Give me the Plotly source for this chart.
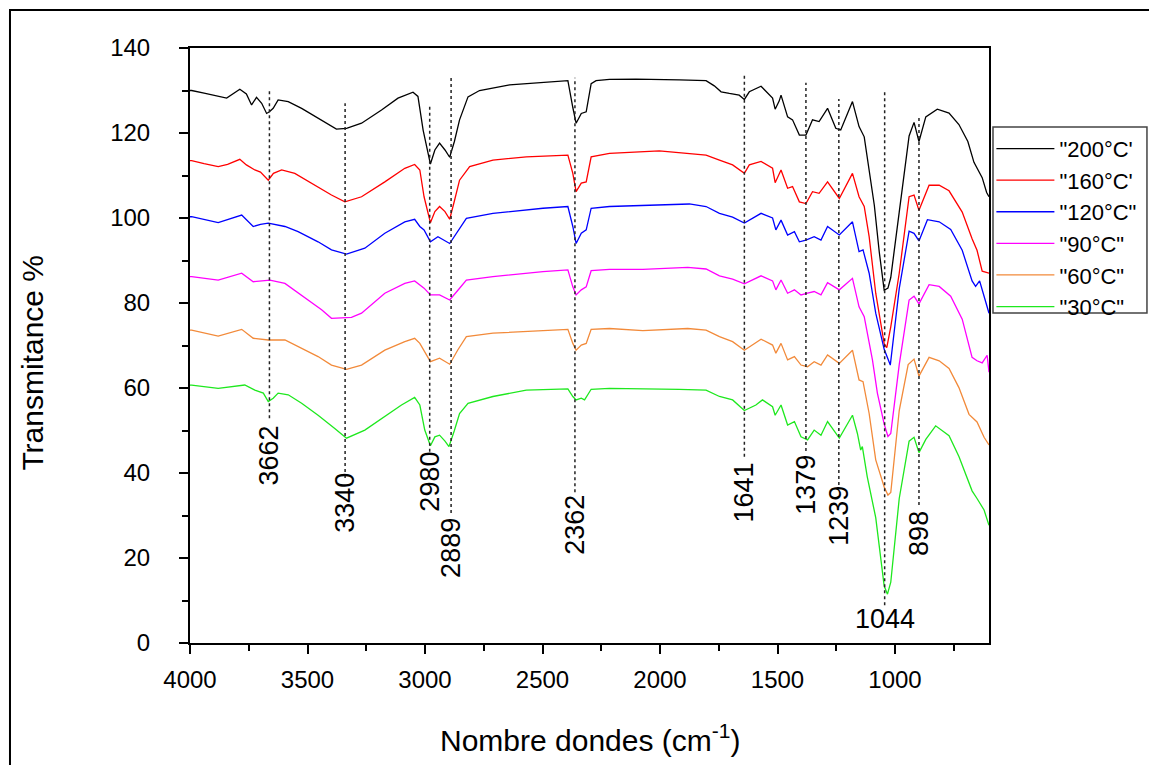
import plotly.graph_objects as go

# ---------------- data ----------------
wn_200 = [4000, 3993, 3940, 3880, 3844, 3788, 3760, 3738, 3717, 3695, 3674, 3662, 3646, 3625, 3582, 3525, 3455, 3377, 3334, 3270, 3185, 3115, 3051, 3030, 3008, 2990, 2977, 2958, 2938, 2915, 2895, 2875, 2853, 2817, 2768, 2640, 2498, 2392, 2371, 2357, 2335, 2314, 2293, 2272, 2215, 2102, 1918, 1804, 1769, 1740, 1705, 1663, 1641, 1620, 1570, 1542, 1521, 1510, 1493, 1485, 1457, 1436, 1407, 1379, 1351, 1323, 1287, 1252, 1231, 1181, 1153, 1131, 1110, 1088, 1067, 1046, 1030, 1018, 982, 955, 940, 919, 898, 869, 820, 770, 728, 690, 664, 629, 610, 600]
t_200 = [130.0, 130.0, 129.4, 128.7, 128.2, 130.3, 129.2, 126.6, 128.4, 127.0, 124.6, 125.0, 125.8, 127.8, 127.4, 125.8, 123.5, 120.9, 121.1, 122.3, 125.4, 128.2, 129.6, 128.6, 120.7, 116.0, 112.7, 116.0, 117.6, 116.0, 114.3, 118.0, 123.1, 128.5, 130.0, 131.3, 131.8, 132.3, 126.0, 122.3, 124.6, 125.0, 131.6, 132.3, 132.6, 132.7, 132.5, 132.3, 131.1, 129.7, 129.3, 128.9, 127.9, 129.7, 131.0, 129.3, 128.2, 125.6, 127.5, 128.9, 123.8, 123.1, 119.5, 119.5, 123.1, 122.7, 125.8, 121.1, 120.7, 127.4, 121.5, 119.1, 111.3, 103.0, 92.0, 83.0, 83.5, 86.0, 101.4, 113.0, 119.3, 122.5, 118.0, 123.8, 125.6, 124.7, 122.0, 118.0, 113.1, 109.5, 106.0, 105.0]

wn_160 = [4000, 3993, 3940, 3880, 3840, 3788, 3760, 3724, 3700, 3667, 3645, 3610, 3554, 3483, 3398, 3341, 3270, 3171, 3086, 3044, 3022, 3004, 2977, 2958, 2938, 2915, 2895, 2875, 2853, 2810, 2711, 2569, 2392, 2371, 2357, 2335, 2314, 2293, 2215, 2003, 1804, 1747, 1691, 1641, 1620, 1570, 1521, 1510, 1485, 1457, 1436, 1407, 1379, 1351, 1323, 1287, 1237, 1181, 1153, 1131, 1110, 1082, 1046, 1035, 1018, 982, 940, 919, 898, 855, 812, 770, 714, 672, 651, 629, 600]
t_160 = [113.5, 113.5, 112.8, 112.1, 112.6, 113.8, 112.5, 111.3, 110.8, 108.9, 110.5, 111.3, 110.5, 108.2, 105.4, 103.8, 105.0, 108.5, 111.7, 112.6, 111.3, 105.0, 98.9, 101.5, 102.7, 101.5, 99.7, 104.0, 108.9, 112.1, 113.6, 114.4, 114.8, 110.5, 106.2, 108.2, 108.5, 114.4, 115.2, 115.8, 114.8, 113.6, 112.5, 110.5, 112.5, 113.3, 111.7, 108.3, 111.3, 107.0, 107.4, 103.8, 103.4, 106.2, 105.8, 108.5, 104.6, 110.5, 105.0, 102.7, 95.6, 82.3, 70.4, 69.5, 74.4, 87.0, 105.0, 105.4, 101.8, 107.7, 107.7, 106.4, 101.4, 95.1, 92.4, 87.5, 87.0]

wn_120 = [4000, 3993, 3880, 3780, 3731, 3700, 3667, 3596, 3540, 3455, 3398, 3334, 3256, 3171, 3086, 3044, 3022, 3004, 2977, 2945, 2895, 2860, 2824, 2711, 2498, 2392, 2371, 2357, 2335, 2314, 2293, 2215, 2073, 1875, 1804, 1747, 1691, 1641, 1570, 1521, 1507, 1485, 1457, 1428, 1407, 1379, 1344, 1315, 1287, 1237, 1181, 1153, 1136, 1110, 1082, 1046, 1020, 982, 940, 919, 898, 862, 812, 763, 714, 672, 657, 640, 621, 600]
t_120 = [100.3, 100.3, 98.9, 100.7, 98.0, 98.5, 98.8, 98.0, 96.8, 94.4, 92.5, 91.5, 92.9, 96.4, 99.1, 99.7, 98.0, 97.2, 94.4, 95.6, 94.0, 97.0, 99.9, 101.1, 102.3, 102.7, 98.0, 94.0, 96.4, 97.2, 102.3, 102.7, 102.9, 103.3, 102.7, 101.1, 100.2, 98.8, 101.1, 100.0, 97.2, 99.5, 96.0, 96.8, 94.4, 94.8, 95.6, 94.8, 98.0, 96.0, 99.1, 92.1, 92.5, 87.0, 77.6, 69.1, 65.4, 83.4, 96.9, 96.4, 94.6, 99.6, 99.1, 97.3, 92.4, 85.2, 83.9, 85.2, 81.6, 77.6]

wn_90 = [4000, 3993, 3880, 3780, 3731, 3660, 3596, 3540, 3440, 3398, 3313, 3270, 3171, 3086, 3044, 3004, 2977, 2938, 2895, 2860, 2824, 2711, 2498, 2392, 2371, 2357, 2335, 2314, 2293, 2215, 2073, 1882, 1804, 1747, 1691, 1641, 1570, 1521, 1507, 1485, 1457, 1428, 1400, 1372, 1344, 1315, 1287, 1237, 1181, 1153, 1131, 1096, 1075, 1046, 1030, 1018, 982, 940, 919, 898, 855, 812, 763, 714, 672, 651, 629, 608, 600]
t_90 = [86.2, 86.2, 85.4, 87.0, 85.0, 85.4, 84.6, 82.3, 78.4, 76.4, 76.6, 77.6, 82.3, 84.6, 85.2, 83.5, 81.9, 81.9, 80.7, 83.0, 85.4, 86.2, 87.4, 87.8, 83.8, 81.9, 83.1, 83.8, 87.6, 87.9, 87.9, 88.4, 88.0, 86.4, 85.6, 84.5, 86.4, 85.2, 83.1, 85.4, 82.3, 83.1, 81.9, 82.3, 82.7, 81.9, 84.8, 83.1, 85.8, 79.1, 76.8, 66.6, 58.8, 51.5, 48.6, 49.3, 65.5, 80.7, 81.6, 79.8, 84.3, 83.9, 81.6, 76.2, 67.2, 66.4, 65.9, 67.7, 63.7]

wn_60 = [4000, 3993, 3880, 3780, 3731, 3667, 3596, 3540, 3455, 3398, 3334, 3270, 3171, 3086, 3044, 3022, 3004, 2977, 2938, 2895, 2860, 2824, 2711, 2498, 2392, 2371, 2357, 2335, 2314, 2293, 2215, 2073, 1882, 1804, 1747, 1691, 1641, 1570, 1521, 1507, 1485, 1457, 1428, 1400, 1372, 1344, 1315, 1287, 1237, 1181, 1153, 1136, 1110, 1082, 1046, 1030, 1018, 982, 944, 919, 898, 855, 812, 770, 728, 685, 651, 621, 600]
t_60 = [73.6, 73.6, 72.2, 73.8, 71.7, 71.3, 71.3, 69.7, 67.4, 65.4, 64.4, 65.4, 68.9, 70.9, 71.7, 70.5, 68.9, 66.2, 67.0, 65.6, 69.0, 72.1, 72.9, 73.6, 73.8, 70.5, 68.9, 70.1, 70.5, 73.8, 74.0, 73.5, 74.0, 73.6, 72.1, 70.9, 68.9, 71.5, 70.1, 68.2, 70.5, 66.6, 67.4, 65.4, 65.0, 66.2, 65.4, 67.8, 65.8, 68.9, 61.9, 61.5, 54.0, 43.1, 36.7, 34.8, 35.4, 54.7, 65.5, 66.8, 62.8, 67.2, 66.4, 64.6, 60.1, 53.8, 52.0, 48.4, 46.6]

wn_30 = [4000, 3993, 3880, 3767, 3724, 3688, 3667, 3646, 3625, 3582, 3525, 3455, 3384, 3334, 3256, 3171, 3100, 3044, 3022, 3001, 2977, 2958, 2938, 2915, 2898, 2875, 2853, 2817, 2711, 2569, 2392, 2371, 2357, 2335, 2321, 2293, 2215, 1918, 1804, 1747, 1691, 1641, 1592, 1564, 1521, 1510, 1485, 1457, 1428, 1400, 1372, 1344, 1315, 1287, 1237, 1181, 1160, 1146, 1139, 1118, 1082, 1046, 1032, 1018, 982, 940, 919, 898, 869, 827, 770, 728, 672, 651, 621, 600]
t_30 = [60.7, 60.7, 59.9, 60.7, 59.5, 58.8, 56.8, 57.6, 58.8, 58.4, 56.4, 53.6, 50.5, 48.2, 50.1, 53.2, 56.0, 57.8, 56.0, 50.1, 46.4, 48.5, 48.9, 47.5, 46.2, 50.0, 54.0, 56.4, 58.0, 59.5, 59.8, 58.0, 57.2, 57.6, 57.2, 59.7, 59.9, 59.7, 59.5, 58.0, 57.2, 54.7, 56.0, 57.2, 55.6, 53.6, 56.0, 51.3, 52.1, 48.5, 47.8, 50.1, 48.9, 52.1, 48.2, 53.6, 49.3, 45.4, 46.2, 39.1, 29.5, 13.4, 11.5, 14.3, 34.0, 47.5, 48.4, 44.8, 47.9, 51.1, 48.8, 43.9, 35.8, 34.0, 31.3, 27.7]

series_names = ['"200°C\'', '"160°C\'', '"120°C"', '"90°C"', '"60°C"', '"30°C"']

# peak markers
peak_wn = [3662, 3340, 2980, 2889, 2362, 1641, 1379, 1239, 1044, 898]
peak_labels = ["3662", "3340", "2980", "2889", "2362", "1641", "1379", "1239", "1044", "898"]
line_top = [130.1, 127.0, 126.6, 133.0, 133.0, 133.6, 131.8, 128.0, 130.0, 123.8]
line_bottom = [52.9, 38.8, 45.0, 30.6, 35.5, 43.8, 45.2, 37.2, 8.9, 32.5]
label_y = [44.2, 33.0, 37.9, 22.4, 27.8, 35.5, 37.2, 29.9, 5.6, 25.9]

x_ticks = [4000, 3500, 3000, 2500, 2000, 1500, 1000]
y_ticks = [0, 20, 40, 60, 80, 100, 120, 140]

# ---------------- styles ----------------
colors = ["#000000", "#ff0000", "#0000ff", "#ff00ff", "#f28a3a", "#1ee81e"]
FONT = "Arial, Liberation Sans, sans-serif"

fig = go.Figure()
data = [(wn_200, t_200), (wn_160, t_160), (wn_120, t_120),
        (wn_90, t_90), (wn_60, t_60), (wn_30, t_30)]
for (wx, ty), name, c in zip(data, series_names, colors):
    fig.add_trace(go.Scatter(x=wx, y=ty, mode="lines", name=name,
                             line=dict(color=c, width=1.3)))

shapes = []
annotations = []
for wn, lab, y0, y1, ly in zip(peak_wn, peak_labels, line_bottom, line_top, label_y):
    shapes.append(dict(type="line", xref="x", yref="y", x0=wn, x1=wn, y0=y0, y1=y1,
                       line=dict(color="#222222", width=1.5, dash="dot")))
    annotations.append(dict(x=wn, y=ly, xref="x", yref="y", text=lab, showarrow=False,
                            textangle=0 if lab == "1044" else -90,
                            font=dict(family=FONT, size=27, color="black"),
                            xanchor="center", yanchor="middle"))

# axis titles
annotations.append(dict(x=-0.197, y=0.4706, xref="paper", yref="paper",
                        text="Transmitance %", textangle=-90, showarrow=False,
                        font=dict(family=FONT, size=30, color="black"),
                        xanchor="center", yanchor="middle"))
annotations.append(dict(x=0.5006, y=-0.16, xref="paper", yref="paper",
                        text="Nombre dondes (cm<sup>-1</sup>)", showarrow=False,
                        font=dict(family=FONT, size=30, color="black"),
                        xanchor="center", yanchor="middle"))

# outer frame and legend box
shapes.append(dict(type="rect", xref="paper", yref="paper", x0=-0.2253, x1=1.214,
                   y0=-0.2134, y1=1.0639, line=dict(color="black", width=2)))
shapes.append(dict(type="rect", xref="paper", yref="paper", x0=1.005, x1=1.1977,
                   y0=0.5546, y1=0.8672, line=dict(color="#444444", width=1.5),
                   fillcolor="rgba(0,0,0,0)"))

fig.update_layout(
    width=1149, height=757,
    margin=dict(l=182, r=168, t=40, b=122),
    paper_bgcolor="white", plot_bgcolor="white",
    font=dict(family=FONT, color="black"),
    showlegend=True,
    legend=dict(x=1.003, y=0.866, xanchor="left", yanchor="top",
                bgcolor="rgba(0,0,0,0)", borderwidth=0,
                font=dict(family=FONT, size=22, color="black"),
                itemwidth=58, tracegroupgap=0),
    shapes=shapes, annotations=annotations,
)
fig.update_xaxes(range=[4000, 600], tickvals=x_ticks, ticktext=[str(v) for v in x_ticks],
                 ticks="outside", ticklen=9, tickwidth=2, tickcolor="black",
                 minor=dict(dtick=250, tick0=0, ticks="outside", ticklen=6, tickwidth=2, tickcolor="black"),
                 showline=True, linecolor="black", linewidth=2, mirror=True,
                 showgrid=False, zeroline=False, ticklabelstandoff=5,
                 tickfont=dict(family=FONT, size=24, color="black"))
fig.update_yaxes(range=[0, 140], tickvals=y_ticks, ticktext=[str(v) for v in y_ticks],
                 ticks="outside", ticklen=9, tickwidth=2, tickcolor="black",
                 minor=dict(dtick=10, tick0=0, ticks="outside", ticklen=6, tickwidth=2, tickcolor="black"),
                 showline=True, linecolor="black", linewidth=2, mirror=True,
                 showgrid=False, zeroline=False, ticklabelstandoff=24,
                 tickfont=dict(family=FONT, size=24, color="black"))

fig.write_html("out.html")
